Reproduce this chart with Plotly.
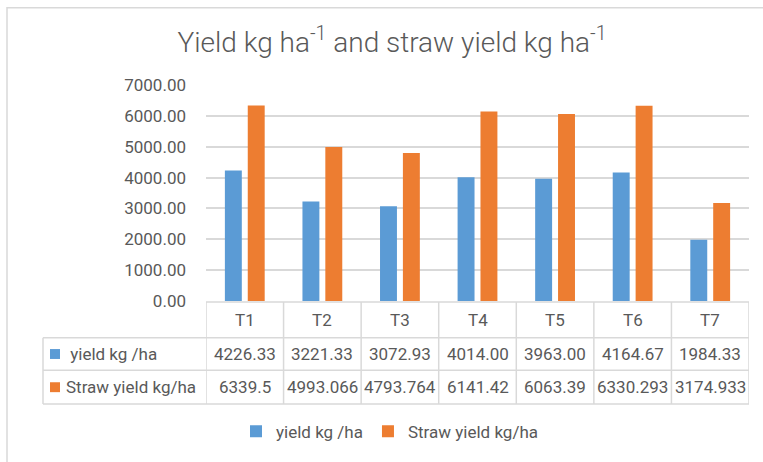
import plotly.graph_objects as go

categories = ["T1", "T2", "T3", "T4", "T5", "T6", "T7"]
yield_vals = [4226.33, 3221.33, 3072.93, 4014.00, 3963.00, 4164.67, 1984.33]
yield_labels = ["4226.33", "3221.33", "3072.93", "4014.00", "3963.00", "4164.67", "1984.33"]
straw_vals = [6339.5, 4993.066, 4793.764, 6141.42, 6063.39, 6330.293, 3174.933]
straw_labels = ["6339.5", "4993.066", "4793.764", "6141.42", "6063.39", "6330.293", "3174.933"]
series_names = ["yield kg /ha", "Straw yield kg/ha"]
colors = ["#5B9BD5", "#ED7D31"]

W, H = 763, 462
ML, MR, MT, MB = 206, 14, 85, 159
PW, PH = W - ML - MR, H - MT - MB

def px_x(p):
    return (p - ML) / PW

def px_y(p):
    return (H - MB - p) / PH

FONT = "Roboto"
FS = 17
GRAY = "#595959"
LINE = "#D9D9D9"

fig = go.Figure()
fig.add_trace(go.Bar(x=categories, y=yield_vals, name=series_names[0],
                     marker=dict(color=colors[0], line=dict(width=0))))
fig.add_trace(go.Bar(x=categories, y=straw_vals, name=series_names[1],
                     marker=dict(color=colors[1], line=dict(width=0))))

shapes = []
annotations = []

# chart border (top & left visible)
shapes.append(dict(type="rect", xref="paper", yref="paper",
                   x0=px_x(7), x1=px_x(790), y0=px_y(490), y1=px_y(7),
                   line=dict(color=LINE, width=1.5), fillcolor="rgba(0,0,0,0)", layer="below"))

# data table
y_top = px_y(304)
y_h1 = px_y(340)
y_h2 = px_y(373)
y_h3 = px_y(407)
x_lab = px_x(43)
n = len(categories)
for i in range(n + 1):
    shapes.append(dict(type="line", xref="x", yref="paper", x0=i - 0.5, x1=i - 0.5,
                       y0=y_top, y1=y_h3, line=dict(color=LINE, width=1.5)))
shapes.append(dict(type="line", xref="paper", yref="paper", x0=0, x1=1, y0=y_top, y1=y_top,
                   line=dict(color=LINE, width=1.5)))
for yy in (y_h1, y_h2, y_h3):
    shapes.append(dict(type="line", xref="paper", yref="paper", x0=x_lab, x1=1, y0=yy, y1=yy,
                       line=dict(color=LINE, width=1.5)))
shapes.append(dict(type="line", xref="paper", yref="paper", x0=x_lab, x1=x_lab, y0=y_h1, y1=y_h3,
                   line=dict(color=LINE, width=1.5)))

cell_font = dict(family=FONT, size=FS, color=GRAY)
row_y = [(y_top + y_h1) / 2, (y_h1 + y_h2) / 2, (y_h2 + y_h3) / 2]
for i, c in enumerate(categories):
    for r, txt in enumerate((c, yield_labels[i], straw_labels[i])):
        annotations.append(dict(x=c, y=row_y[r], xref="x", yref="paper", text=txt, showarrow=False,
                                xanchor="center", yanchor="middle", font=cell_font))

# row labels with keys
label_texts = [" " + series_names[0], series_names[1]]
for k in range(2):
    yc = row_y[k + 1]
    shapes.append(dict(type="rect", xref="paper", yref="paper",
                       x0=px_x(50), x1=px_x(60), y0=yc - 5 / PH, y1=yc + 5 / PH,
                       fillcolor=colors[k], line=dict(width=0)))
    annotations.append(dict(x=px_x(64), y=yc, xref="paper", yref="paper", text=label_texts[k],
                            showarrow=False, xanchor="left", yanchor="middle", font=cell_font))

fig.update_layout(
    width=W, height=H,
    margin=dict(l=ML, r=MR, t=MT, b=MB),
    paper_bgcolor="white", plot_bgcolor="white",
    barmode="group", bargap=0.41, bargroupgap=0.26,
    title=dict(text="Yield kg ha<sup>-1</sup> and straw yield kg ha<sup>-1</sup>",
               x=392 / W, y=1 - 42 / H, xanchor="center", yanchor="middle",
               font=dict(family=FONT, size=28, color=GRAY, weight=300)),
    font=dict(family=FONT, size=FS, color=GRAY),
    xaxis=dict(range=[-0.5, n - 0.5], showticklabels=False, showgrid=False, zeroline=False,
               showline=False, ticks=""),
    yaxis=dict(range=[0, 7000], dtick=1000, tickformat=".2f", showgrid=True, gridcolor=LINE,
               gridwidth=1.5, zeroline=False, showline=False, ticks="", ticklabelstandoff=19,
               tickfont=dict(family=FONT, size=FS, color=GRAY)),
    legend=dict(orientation="h", x=px_x(390), y=px_y(435), xanchor="center", yanchor="middle",
                font=dict(family=FONT, size=FS, color=GRAY), itemwidth=30, tracegroupgap=0),
    shapes=shapes, annotations=annotations,
)

fig.write_html("out.html", config={"displayModeBar": False},
               post_script="document.body.style.margin='0';document.body.style.overflow='hidden';")
